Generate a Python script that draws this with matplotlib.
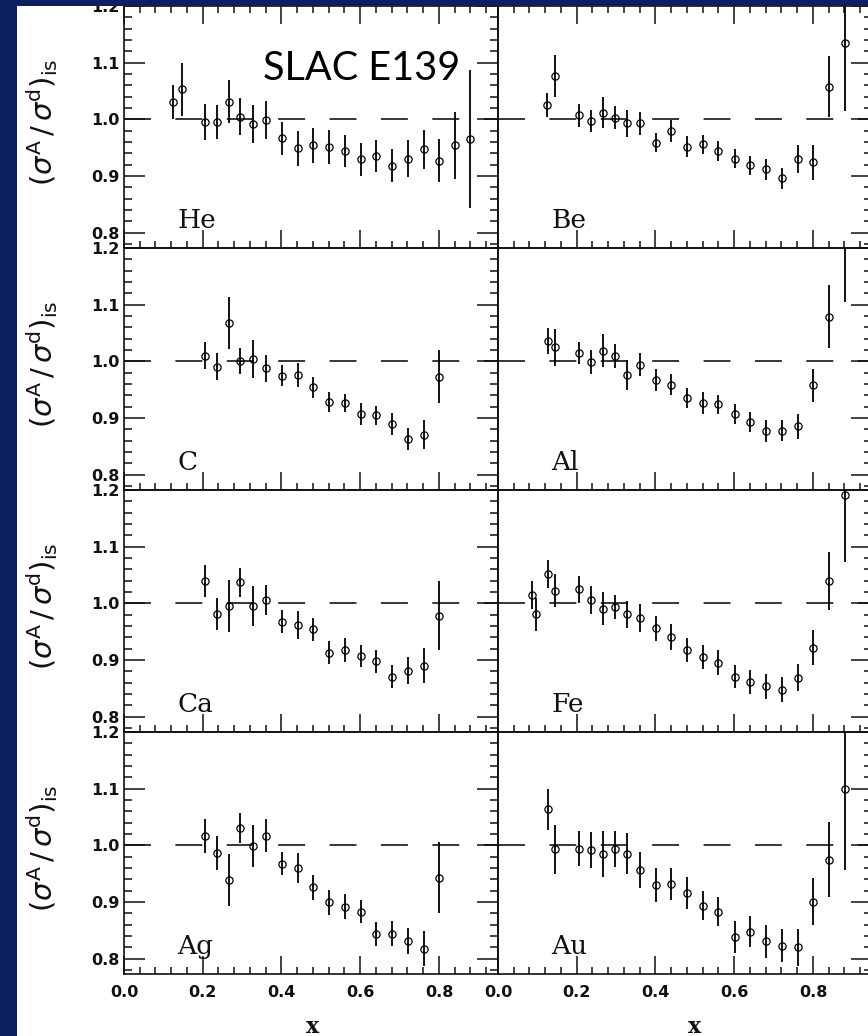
import matplotlib
matplotlib.use('Agg')
import matplotlib.pyplot as plt
from matplotlib.patches import Rectangle
from matplotlib.ticker import MultipleLocator, FixedLocator

plt.rcParams['lines.scale_dashes'] = False
plt.rcParams['mathtext.fontset'] = 'dejavusans'

NAVY = '#0c2060'

# ---------------- data (ratio sigma^A / sigma^d, isoscalar corrected) ----------------
he_x = [0.125, 0.147, 0.206, 0.235, 0.266, 0.295, 0.327, 0.361, 0.401, 0.441, 0.481,
        0.521, 0.561, 0.601, 0.640, 0.681, 0.721, 0.761, 0.801, 0.841, 0.880]
he_y = [1.030, 1.053, 0.996, 0.996, 1.031, 1.005, 0.992, 0.999, 0.967, 0.949, 0.954,
        0.952, 0.944, 0.930, 0.935, 0.918, 0.931, 0.947, 0.927, 0.954, 0.965]
he_e = [0.030, 0.047, 0.032, 0.030, 0.038, 0.032, 0.034, 0.033, 0.029, 0.031, 0.031,
        0.030, 0.028, 0.029, 0.028, 0.029, 0.032, 0.035, 0.038, 0.059, 0.122]

be_x = [0.124, 0.146, 0.206, 0.236, 0.266, 0.296, 0.327, 0.361, 0.402, 0.440, 0.481,
        0.520, 0.560, 0.601, 0.640, 0.680, 0.721, 0.761, 0.801, 0.841, 0.882]
be_y = [1.025, 1.077, 1.007, 0.997, 1.012, 1.003, 0.993, 0.993, 0.959, 0.980, 0.952,
        0.956, 0.944, 0.931, 0.919, 0.912, 0.896, 0.930, 0.924, 1.058, 1.134]
be_e = [0.021, 0.037, 0.020, 0.020, 0.028, 0.020, 0.024, 0.020, 0.017, 0.019, 0.018,
        0.017, 0.018, 0.016, 0.017, 0.018, 0.019, 0.024, 0.030, 0.053, 0.120]

c_x = [0.206, 0.235, 0.266, 0.295, 0.327, 0.361, 0.401, 0.441, 0.481, 0.521, 0.561,
       0.601, 0.640, 0.681, 0.721, 0.761, 0.801]
c_y = [1.010, 0.991, 1.067, 1.001, 1.004, 0.988, 0.975, 0.976, 0.954, 0.928, 0.926,
       0.907, 0.905, 0.890, 0.863, 0.871, 0.973]
c_e = [0.024, 0.024, 0.046, 0.023, 0.034, 0.024, 0.018, 0.022, 0.019, 0.018, 0.016,
       0.019, 0.017, 0.019, 0.020, 0.025, 0.047]

al_x = [0.126, 0.146, 0.206, 0.236, 0.266, 0.296, 0.327, 0.361, 0.402, 0.440, 0.481,
        0.520, 0.560, 0.601, 0.640, 0.680, 0.721, 0.761, 0.801, 0.841, 0.882]
al_y = [1.036, 1.025, 1.015, 0.999, 1.019, 1.010, 0.976, 0.994, 0.967, 0.959, 0.935,
        0.927, 0.924, 0.907, 0.893, 0.877, 0.878, 0.886, 0.958, 1.079, 1.240]
al_e = [0.023, 0.033, 0.020, 0.021, 0.029, 0.021, 0.026, 0.020, 0.019, 0.019, 0.018,
        0.019, 0.017, 0.018, 0.018, 0.019, 0.019, 0.022, 0.029, 0.055, 0.136]

ca_x = [0.206, 0.235, 0.266, 0.295, 0.327, 0.361, 0.401, 0.441, 0.481, 0.521, 0.561,
        0.601, 0.640, 0.681, 0.721, 0.761, 0.801]
ca_y = [1.040, 0.981, 0.995, 1.037, 0.996, 1.006, 0.968, 0.962, 0.954, 0.913, 0.918,
        0.907, 0.898, 0.871, 0.881, 0.890, 0.978]
ca_e = [0.028, 0.028, 0.046, 0.025, 0.035, 0.026, 0.021, 0.024, 0.021, 0.020, 0.021,
        0.020, 0.020, 0.021, 0.024, 0.031, 0.061]

fe_x = [0.086, 0.096, 0.126, 0.146, 0.207, 0.236, 0.266, 0.296, 0.327, 0.361, 0.402,
        0.440, 0.481, 0.520, 0.560, 0.601, 0.640, 0.680, 0.721, 0.761, 0.801, 0.841, 0.882]
fe_y = [1.015, 0.981, 1.052, 1.022, 1.025, 1.006, 0.991, 0.993, 0.981, 0.974, 0.956,
        0.941, 0.918, 0.906, 0.895, 0.871, 0.862, 0.854, 0.848, 0.869, 0.922, 1.040, 1.191]
fe_e = [0.024, 0.029, 0.024, 0.029, 0.024, 0.025, 0.029, 0.021, 0.024, 0.025, 0.022,
        0.023, 0.021, 0.021, 0.022, 0.021, 0.021, 0.022, 0.022, 0.024, 0.031, 0.051, 0.118]

ag_x = [0.206, 0.235, 0.266, 0.295, 0.327, 0.361, 0.401, 0.441, 0.481, 0.521, 0.561,
        0.601, 0.640, 0.681, 0.721, 0.761, 0.801]
ag_y = [1.017, 0.987, 0.939, 1.031, 0.999, 1.017, 0.968, 0.960, 0.926, 0.900, 0.892,
        0.883, 0.844, 0.844, 0.831, 0.818, 0.943]
ag_e = [0.030, 0.030, 0.046, 0.026, 0.037, 0.029, 0.021, 0.026, 0.022, 0.022, 0.022,
        0.020, 0.021, 0.022, 0.023, 0.031, 0.063]

au_x = [0.126, 0.146, 0.206, 0.236, 0.266, 0.296, 0.327, 0.361, 0.402, 0.440, 0.481,
        0.520, 0.560, 0.601, 0.640, 0.680, 0.721, 0.761, 0.801, 0.841, 0.882]
au_y = [1.064, 0.993, 0.994, 0.992, 0.985, 0.994, 0.985, 0.957, 0.931, 0.932, 0.916,
        0.894, 0.883, 0.839, 0.848, 0.831, 0.823, 0.820, 0.901, 0.975, 1.099]
au_e = [0.036, 0.043, 0.031, 0.032, 0.040, 0.032, 0.036, 0.032, 0.030, 0.029, 0.028,
        0.026, 0.026, 0.028, 0.028, 0.029, 0.029, 0.032, 0.041, 0.066, 0.143]

panel_names = ['He', 'Be', 'C', 'Al', 'Ca', 'Fe', 'Ag', 'Au']
panel_data = [(he_x, he_y, he_e), (be_x, be_y, be_e), (c_x, c_y, c_e), (al_x, al_y, al_e),
              (ca_x, ca_y, ca_e), (fe_x, fe_y, fe_e), (ag_x, ag_y, ag_e), (au_x, au_y, au_e)]

x_ticks = [0.0, 0.2, 0.4, 0.6, 0.8]
x_ticklabels = ['0.0', '0.2', '0.4', '0.6', '0.8']
y_ticks = [0.8, 0.9, 1.0, 1.1, 1.2]
y_ticklabels = ['0.8', '0.9', '1.0', '1.1', '1.2']
ylabel_text = r'$(\sigma^{\mathrm{A}}\,/\,\sigma^{\mathrm{d}})_{\mathrm{is}}$'
title_text = 'SLAC E139'

# ---------------- figure ----------------
W, H = 868, 1036
fig = plt.figure(figsize=(W / 100, H / 100), dpi=100, facecolor=NAVY)
fig.add_artist(Rectangle((17 / W, 0), 1 - 17 / W, 1 - 6 / H, transform=fig.transFigure,
                         facecolor='white', edgecolor='none', zorder=-10))

col_left = [124, 498]
top0, row_h, col_w = 6, 242, 374

for i, (name, (xs, ys, es)) in enumerate(zip(panel_names, panel_data)):
    r, c = divmod(i, 2)
    left = col_left[c] / W
    bottom = 1 - (top0 + row_h * (r + 1)) / H
    ax = fig.add_axes([left, bottom, col_w / W, row_h / H])
    ax.set_facecolor('none')
    ax.set_xlim(0.0, 0.95)
    ax.set_ylim(0.7732, 1.2)

    ax.axhline(1.0, color='black', lw=1.1, dashes=(19.4, 17.6), zorder=1)
    ax.errorbar(xs, ys, yerr=es, fmt='o', ms=5.2, mfc='none', mec='black', mew=0.9,
                ecolor='black', elinewidth=1.3, capsize=0, zorder=3)

    ax.xaxis.set_major_locator(FixedLocator(x_ticks))
    ax.xaxis.set_minor_locator(MultipleLocator(0.04))
    ax.yaxis.set_major_locator(FixedLocator(y_ticks))
    ax.yaxis.set_minor_locator(MultipleLocator(0.02))
    ax.set_xticklabels(x_ticklabels, fontweight='bold')
    ax.set_yticklabels(y_ticklabels, fontweight='bold')

    ax.tick_params(axis='both', which='both', direction='in', colors='#111111',
                   top=(r == 0), bottom=True, left=(c == 0), right=True,
                   labelleft=(c == 0), labelbottom=(r == 3), labeltop=False,
                   labelright=False, labelsize=11.5, width=1.1)
    ax.tick_params(axis='x', which='major', length=13, pad=8)
    ax.tick_params(axis='x', which='minor', length=5)
    ax.tick_params(axis='y', which='major', length=15, pad=3)
    ax.tick_params(axis='y', which='minor', length=6)
    for sp in ax.spines.values():
        sp.set_linewidth(1.2)
        sp.set_color('#111111')

    ax.text(0.135, 0.808, name, family='DejaVu Serif', fontsize=19,
            va='baseline', ha='left', color='#111111')

    if c == 0:
        ax.set_ylabel(ylabel_text, fontsize=21, color='#111111')
        ax.yaxis.set_label_coords(-0.172, 0.52)
    if r == 3:
        ax.set_xlabel('x', family='DejaVu Serif', fontweight='bold', fontsize=16,
                      color='#111111')
        ax.xaxis.set_label_coords([0.505, 0.527][c], -0.172)

fig.text(263 / W, 1 - 80 / H, title_text, family='Lato', fontsize=28.5,
         va='baseline', ha='left', color='black')

# navy frame strips on top (crop look)
fig.add_artist(Rectangle((0, 1 - 6 / H), 1, 6 / H, transform=fig.transFigure,
                         facecolor=NAVY, edgecolor='none', zorder=50))
fig.add_artist(Rectangle((0, 0), 17 / W, 1, transform=fig.transFigure,
                         facecolor=NAVY, edgecolor='none', zorder=50))

fig.savefig('out.png', dpi=100, facecolor=NAVY)
